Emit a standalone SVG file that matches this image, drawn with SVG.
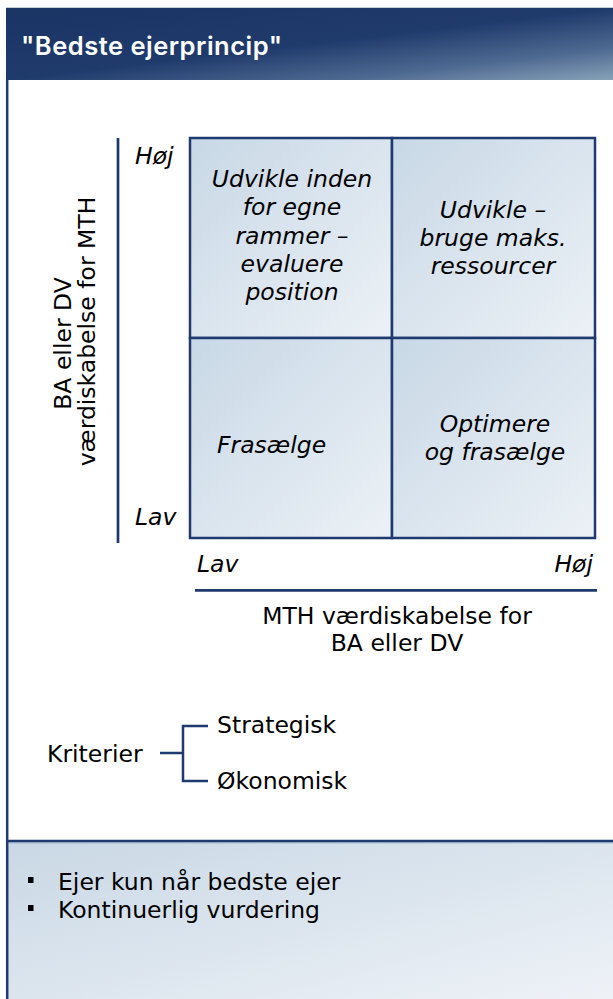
<svg xmlns="http://www.w3.org/2000/svg" width="613" height="999" viewBox="0 0 613 999">
<defs>
<linearGradient id="hdr" x1="0" y1="0" x2="1" y2="1">
<stop offset="0" stop-color="#1a3464"/>
<stop offset="0.5" stop-color="#1f3b6c"/>
<stop offset="0.78" stop-color="#4f6a91"/>
<stop offset="1" stop-color="#87a2b9"/>
</linearGradient>
<linearGradient id="cell" x1="0" y1="0" x2="1" y2="1">
<stop offset="0" stop-color="#c8d8e6"/>
<stop offset="1" stop-color="#ecf1f6"/>
</linearGradient>
<linearGradient id="foot" x1="0" y1="0" x2="1" y2="1">
<stop offset="0" stop-color="#c9d8e5"/>
<stop offset="1" stop-color="#eef2f7"/>
</linearGradient>
</defs>
<style>
.t{font-family:"DejaVu Sans",Verdana,sans-serif;font-size:23.5px;fill:#000}
.i{font-style:italic}
.m{text-anchor:middle}
.e{text-anchor:end}
.ln{stroke:#1f3a6e;fill:none}
.c{fill:url(#cell);stroke:#1f3a6e;stroke-width:2.5}
</style>
<rect x="0" y="0" width="613" height="999" fill="#ffffff"/>
<g id="header">
<line x1="6" y1="7.5" x2="613" y2="7.5" stroke="#c9cdd5" stroke-width="1"/>
<rect x="6" y="8" width="607" height="72" fill="url(#hdr)"/>
<text x="21" y="55" font-family="Inter,'Liberation Sans',sans-serif" font-weight="600" font-size="25.5" fill="#ffffff" letter-spacing="0.5">"Bedste ejerprincip"</text>
</g>
<g id="footer">
<rect x="8" y="842" width="605" height="157" fill="url(#foot)"/>
<line x1="8" y1="841" x2="613" y2="841" stroke="#1f3a6e" stroke-width="2.5"/>
<line x1="8" y1="842.8" x2="613" y2="842.8" stroke="#8aa0bd" stroke-width="1"/>
<rect x="28" y="877" width="5.5" height="6" fill="#000"/>
<rect x="28" y="905" width="5.5" height="6" fill="#000"/>
<text class="t" x="58" y="890" font-size="22">Ejer kun når bedste ejer</text>
<text class="t" x="58" y="918" font-size="22">Kontinuerlig vurdering</text>
</g>
<line x1="7.2" y1="80" x2="7.2" y2="999" stroke="#1f3a6e" stroke-width="2.5"/>
<g id="matrix">
<g id="cell-tl">
<rect class="c" x="190" y="138" width="202" height="200"/>
<text class="t i m"><tspan x="292" y="187">Udvikle inden</tspan><tspan x="292" y="215">for egne</tspan><tspan x="292" y="243.5">rammer –</tspan><tspan x="292" y="271.5">evaluere</tspan><tspan x="292" y="299.5">position</tspan></text>
</g>
<g id="cell-tr">
<rect class="c" x="392" y="138" width="203" height="200"/>
<text class="t i m"><tspan x="493" y="217.5">Udvikle –</tspan><tspan x="493" y="245.5">bruge maks.</tspan><tspan x="493" y="273.5">ressourcer</tspan></text>
</g>
<g id="cell-bl">
<rect class="c" x="190" y="338" width="202" height="200"/>
<text class="t i" x="217" y="453">Frasælge</text>
</g>
<g id="cell-br">
<rect class="c" x="392" y="338" width="203" height="200"/>
<text class="t i m"><tspan x="495" y="432">Optimere</tspan><tspan x="495" y="460">og frasælge</tspan></text>
</g>
</g>
<g id="y-axis">
<line class="ln" x1="118" y1="138" x2="118" y2="543" stroke-width="2.7"/>
<text class="t i" x="135" y="164">Høj</text>
<text class="t i" x="135" y="525">Lav</text>
<text class="t m" transform="translate(71,343.5) rotate(-90)" x="0" y="0">BA eller DV</text>
<text class="t m" transform="translate(95,331.5) rotate(-90)" x="0" y="0">værdiskabelse for MTH</text>
</g>
<g id="x-axis">
<line class="ln" x1="195" y1="590.3" x2="597" y2="590.3" stroke-width="2.7"/>
<text class="t i" x="197" y="572">Lav</text>
<text class="t i e" x="593" y="572">Høj</text>
<text class="t m" x="397" y="624">MTH værdiskabelse for</text>
<text class="t m" x="397" y="651">BA eller DV</text>
</g>
<g id="kriterier">
<text class="t" x="47" y="762" font-size="24">Kriterier</text>
</g>
<g id="strategisk">
<text class="t" x="217" y="733" font-size="24">Strategisk</text>
</g>
<g id="okonomisk">
<text class="t" x="217" y="789" font-size="24">Økonomisk</text>
</g>
<g id="connectors">
<path class="ln" stroke-width="2.5" d="M160 753 H183 M208 726 H183 V781 H208"/>
</g>
</svg>
